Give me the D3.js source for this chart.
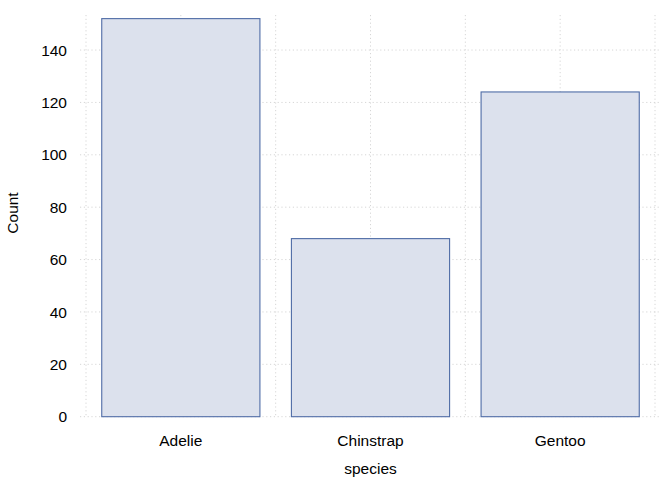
<!DOCTYPE html>
<html><head><meta charset="utf-8">
<script src="https://cdn.jsdelivr.net/npm/d3@7"></script>
<style>body{margin:0;background:#fff}svg{display:block}text{font-family:"Liberation Sans",Arial,sans-serif;fill:#000}</style>
</head><body><svg id="c" width="672" height="480"></svg>
<script>
const species = ["Adelie", "Chinstrap", "Gentoo"];
const counts = [152, 68, 124];
const yTicks = [0, 20, 40, 60, 80, 100, 120, 140];

const svg = d3.select("#c");
const x = d3.scaleBand().domain(species).range([86, 655]).padding(0);
const y = d3.scaleLinear().domain([0, 153]).range([416.7, 16]);
const step = x.bandwidth();
const gridColor = "#d6d6d6";
const g = svg.append("g");

// horizontal grid
g.selectAll("line.hg").data(yTicks).join("line")
  .attr("x1", 80).attr("x2", 660)
  .attr("y1", d => y(d)).attr("y2", d => y(d))
  .attr("stroke", gridColor).attr("stroke-width", 1).attr("stroke-dasharray", "1.2,2.6");

// vertical grid: minor at band edges, major at centers
const vx = [];
species.forEach((s, i) => { vx.push(x(s)); vx.push(x(s) + step / 2); });
vx.push(x(species[species.length - 1]) + step);
g.selectAll("line.vg").data(vx).join("line")
  .attr("x1", d => d).attr("x2", d => d)
  .attr("y1", 15).attr("y2", 417)
  .attr("stroke", gridColor).attr("stroke-width", 1).attr("stroke-dasharray", "1.2,2.6");

// bars
const bw = step * 0.834;
g.selectAll("rect.bar").data(species).join("rect")
  .attr("x", d => x(d) + (step - bw) / 2)
  .attr("width", bw)
  .attr("y", (d, i) => y(counts[i]))
  .attr("height", (d, i) => y(0) - y(counts[i]))
  .attr("fill", "#dce1ed").attr("stroke", "#4f6ca6").attr("stroke-width", 1.1);

// y tick labels
g.selectAll("text.yt").data(yTicks).join("text")
  .attr("x", 67).attr("y", d => y(d)).attr("dy", "0.36em")
  .attr("text-anchor", "end").style("font-size", "15.5px").text(d => d);

// x tick labels
g.selectAll("text.xt").data(species).join("text")
  .attr("x", d => x(d) + step / 2).attr("y", 446)
  .attr("text-anchor", "middle").style("font-size", "15.5px").text(d => d);

// axis titles
svg.append("text").attr("x", 370.5).attr("y", 474).attr("text-anchor", "middle")
  .style("font-size", "15.5px").text("species");
svg.append("text").attr("transform", "translate(18,213) rotate(-90)").attr("text-anchor", "middle")
  .style("font-size", "15.5px").text("Count");
</script></body></html>
